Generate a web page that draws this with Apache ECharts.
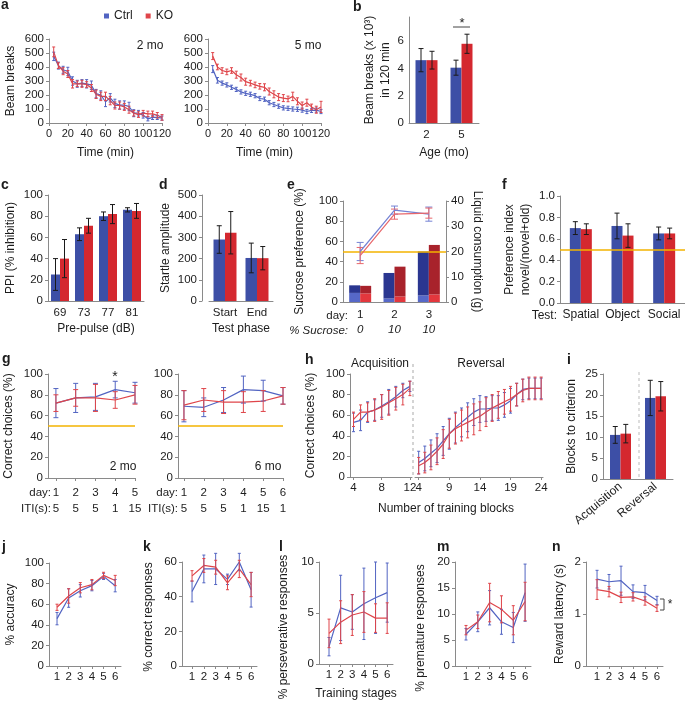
<!DOCTYPE html>
<html><head><meta charset="utf-8">
<script src="https://cdn.jsdelivr.net/npm/echarts@6/dist/echarts.min.js"></script>
<style>html,body{margin:0;padding:0;background:#fff}#c{width:685px;height:703px}</style>
</head><body><div id="c"></div>
<script>
// ---------------- data ----------------
const aTime = [5,10,15,20,25,30,35,40,45,50,55,60,65,70,75,80,85,90,95,100,105,110,115,120];
const a2moCtrl = [476,410,380,368,300,280,285,280,270,210,200,152,180,140,128,128,118,70,70,55,30,40,40,35];
const a2moCtrlErr = [30,25,25,30,30,25,25,30,30,30,30,35,30,30,30,30,30,25,20,20,15,15,15,15];
const a2moKO = [508,410,370,350,280,280,280,275,250,205,190,190,160,125,125,115,95,70,60,70,65,65,55,40];
const a2moKOErr = [35,20,25,25,30,20,25,20,25,30,30,30,30,25,25,25,25,20,20,20,20,20,20,20];
const a5moCtrl = [385,305,285,272,255,240,222,212,205,195,175,170,145,132,120,108,105,100,98,92,82,90,92,82];
const a5moCtrlErr = [25,20,15,15,15,15,15,15,15,15,15,15,15,15,15,15,15,15,15,15,15,15,15,15];
const a5moKO = [478,400,375,365,375,345,325,295,285,272,262,255,225,205,185,178,172,190,155,125,145,115,95,115];
const a5moKOErr = [25,20,20,20,20,25,25,25,20,20,20,25,25,25,25,25,20,30,25,25,25,20,25,40];

const bAge = ['2','5'];
const bCtrl = [4.6,4.05], bCtrlErr = [0.85,0.55];
const bKO = [4.6,5.8], bKOErr = [0.65,0.7];

const cPulse = ['69','73','77','81'];
const cCtrl = [25,63,80,86], cCtrlErr = [15,6,4,2];
const cKO = [40,71,82,85], cKOErr = [18,7,9,7];

const dPhase = ['Start','End'];
const dCtrl = [290,203], dCtrlErr = [65,70];
const dKO = [322,202], dKOErr = [100,55];

const eDays = ['1','2','3'];
const eSucrose = ['0','10','10'];
const eCtrlPref = [50,91,87], eCtrlPrefErr = [9,4,7];
const eKOPref = [46,87,88], eKOPrefErr = [8,5,5];
const eCtrlLower = [3.6,1.4,2.6], eCtrlUpper = [3.0,10.1,17.4];
const eKOLower = [3.4,2.2,3.0], eKOUpper = [3.0,11.8,19.6];

const fTests = ['Spatial','Object','Social'];
const fCtrl = [0.70,0.72,0.65], fCtrlErr = [0.06,0.12,0.06];
const fKO = [0.69,0.63,0.65], fKOErr = [0.05,0.11,0.05];

const gX1 = [1,2,3,4,5];
const gDays1 = ['1','2','3','4','5'], gITI1 = ['5','5','5','1','15'];
const g2moCtrl = [72,77,78,85,82], g2moCtrlErr = [14,14,13,8,10];
const g2moKO = [72,77,77,75,80], g2moKOErr = [8,8,13,8,9];
const gX2 = [1,2,3,4,5,6];
const gDays2 = ['1','2','3','4','5','6'], gITI2 = ['5','5','5','1','15','1'];
const g6moCtrl = [69,68,75,85,84,79], g6moCtrlErr = [15,9,12,13,10,8];
const g6moKO = [70,75,73,73,74,79], g6moKOErr = [14,11,11,10,10,8];

const hAcqX = [4,5,6,7,8,9,10,11,12];
const hAcqTicks = [4,8,12];
const hAcqCtrl = [53,55,63,65,69,73,78,84,88], hAcqCtrlErr = [9,10,10,10,11,12,10,7,5];
const hAcqKO = [56,63,63,65,68,72,76,80,86], hAcqKOErr = [7,7,9,11,12,12,11,10,7];
const hRevX = [4,5,6,7,8,9,10,11,12,13,14,15,16,17,18,19,20,21,22,23,24];
const hRevTicks = [4,9,14,19,24];
const hRevCtrl = [14,18,23,28,35,42,48,53,58,63,66,66,67,67,70,74,80,85,86,86,86];
const hRevCtrlErr = [11,12,13,14,14,15,15,14,14,13,13,12,12,12,12,12,11,10,10,10,10];
const hRevKO = [11,14,19,25,32,42,47,50,53,56,59,63,67,70,73,76,80,84,86,86,86];
const hRevKOErr = [8,10,12,13,14,14,15,15,15,15,14,14,13,13,12,12,11,11,11,11,11];

const iPhase = ['Acquisition','Reversal'];
const iCtrl = [10.5,19.3], iCtrlErr = [2.0,4.2];
const iKO = [10.8,19.7], iKOErr = [2.2,3.5];

const stages = [1,2,3,4,5,6];
const jCtrl = [46,66,73,78,87,78], jCtrlErr = [6,9,6,5,3,6];
const jKO = [57,68,76,79,88,83], jKOErr = [3,7,5,5,3,5];
const kCtrl = [43,56,56,50,60,44], kCtrlErr = [6,8,9,3,5,10];
const kKO = [52,58,57,48,56,47], kKOErr = [3,4,4,4,5,7];
const lCtrl = [1.7,5.5,5.1,5.9,6.5,7.0], lCtrlErr = [0.9,3.2,1.7,3.5,3.5,2.9];
const lKO = [3.0,4.1,4.8,5.1,4.5,4.5], lKOErr = [1.4,2.1,2.0,2.0,1.4,1.5];
const mCtrl = [6.1,8.5,11.2,8.5,7.4,14.1], mCtrlErr = [1.1,1.9,3.3,2.4,2.9,5.5];
const mKO = [6.9,8.5,12.2,10.9,8.8,12.4], mKOErr = [0.9,1.3,3.7,2.6,2.8,3.7];
const nCtrl = [1.67,1.62,1.64,1.43,1.41,1.26], nCtrlErr = [0.17,0.14,0.28,0.13,0.14,0.08];
const nKO = [1.47,1.43,1.32,1.33,1.25,1.11], nKOErr = [0.19,0.10,0.10,0.08,0.08,0.06];

// ---------------- style ----------------
const FONT = '"Liberation Sans", Arial, Helvetica, sans-serif';
const TXT = '#1c1c1c', AX = '#8a8a8a';
const BLUE_BAR = '#3d4fa6', RED_BAR = '#d4282f';
const BLUE_LINE = '#5264c2', RED_LINE = '#df454a';
const BLUE_DARK = '#2a3690', RED_DARK = '#a8222b';
const BLUE_LIGHT = '#5668c8', RED_LIGHT = '#e3373d';
const YELLOW = '#f3b300';
const ERR = '#1a1a1a';

function merge(a, b) {
  if (!b) return a;
  for (const k in b) {
    if (b[k] && typeof b[k] === 'object' && !Array.isArray(b[k]) && typeof b[k] !== 'function' && a[k] && typeof a[k] === 'object') merge(a[k], b[k]);
    else a[k] = b[k];
  }
  return a;
}
const nameStyle = {fontSize: 12, fontFamily: FONT, color: TXT, lineHeight: 16};
function yVal(grid, min, max, interval, name, gap, extra) {
  return merge({type: 'value', gridIndex: grid, min, max, interval, name: name || '', nameLocation: 'middle', nameGap: gap || 30,
    nameTextStyle: Object.assign({}, nameStyle),
    axisLine: {show: true, onZero: false, lineStyle: {color: AX}},
    axisTick: {show: true, length: 3, lineStyle: {color: AX}},
    axisLabel: {fontSize: 11.5, fontFamily: FONT, color: TXT, margin: 5, hideOverlap: false},
    splitLine: {show: false}}, extra);
}
function xVal(grid, min, max, extra) {
  return merge({type: 'value', gridIndex: grid, min, max, nameLocation: 'middle',
    nameTextStyle: Object.assign({}, nameStyle),
    axisLine: {show: true, onZero: false, lineStyle: {color: AX}},
    axisTick: {show: true, length: 3, lineStyle: {color: AX}},
    axisLabel: {fontSize: 11.5, fontFamily: FONT, color: TXT, margin: 5, showMinLabel: true, showMaxLabel: true, hideOverlap: false},
    splitLine: {show: false}}, extra);
}
function xCat(grid, data, extra) {
  return merge({type: 'category', gridIndex: grid, data, nameLocation: 'middle',
    nameTextStyle: Object.assign({}, nameStyle),
    axisLine: {show: true, onZero: false, lineStyle: {color: AX}},
    axisTick: {show: false},
    axisLabel: {interval: 0, fontSize: 11.5, fontFamily: FONT, color: TXT, margin: 6},
    splitLine: {show: false}}, extra);
}
function lineS(name, xi, yi, xs, ys, color, extra) {
  return merge({type: 'line', name, xAxisIndex: xi, yAxisIndex: yi, data: xs.map((x, i) => [x, ys[i]]),
    symbol: 'none', lineStyle: {color, width: 1.2}, itemStyle: {color}, z: 4, silent: true, animation: false}, extra);
}
function barS(name, xi, yi, ys, color, bw, extra) {
  return merge({type: 'bar', name, xAxisIndex: xi, yAxisIndex: yi, data: ys, barWidth: bw, barGap: '0%',
    itemStyle: {color}, z: 2, silent: true, animation: false}, extra);
}
function errS(xi, yi, xs, ys, es, color, off, cap, lw) {
  return {type: 'custom', xAxisIndex: xi, yAxisIndex: yi, silent: true, z: 5, clip: false, animation: false,
    encode: {x: 0, y: 1},
    data: xs.map((x, i) => [x, ys[i], es[i]]),
    renderItem(params, api) {
      const x = api.value(0), y = api.value(1), e = api.value(2);
      const p1 = api.coord([x, y + e]), p2 = api.coord([x, y - e]);
      const cx = p1[0] + off;
      const st = {stroke: color, lineWidth: lw || 1};
      return {type: 'group', children: [
        {type: 'line', shape: {x1: cx, y1: p1[1], x2: cx, y2: p2[1]}, style: st},
        {type: 'line', shape: {x1: cx - cap, y1: p1[1], x2: cx + cap, y2: p1[1]}, style: st},
        {type: 'line', shape: {x1: cx - cap, y1: p2[1], x2: cx + cap, y2: p2[1]}, style: st}]};
    }};
}
function yellow(v) {
  return {silent: true, symbol: 'none', label: {show: false}, animation: false,
    lineStyle: {color: YELLOW, width: 1.6, type: 'solid'}, data: [{yAxis: v}]};
}
const idx = (arr, v) => arr.indexOf(Math.round(v));

// ---------------- grids ----------------
const grids = [
  {left: 49, top: 39, width: 113, height: 84},   // 0 a1
  {left: 208, top: 39, width: 113, height: 84},  // 1 a2
  {left: 409, top: 17, width: 70, height: 106},  // 2 b
  {left: 48, top: 195, width: 96, height: 106},  // 3 c
  {left: 209, top: 195, width: 64, height: 106}, // 4 d
  {left: 343, top: 201, width: 103, height: 101},// 5 e
  {left: 560, top: 196, width: 135, height: 107},// 6 f
  {left: 48, top: 374, width: 87, height: 104},  // 7 g1
  {left: 178, top: 374, width: 105, height: 104},// 8 g2
  {left: 350, top: 374, width: 62, height: 103}, // 9 h1
  {left: 415, top: 374, width: 128, height: 103},// 10 h2
  {left: 603, top: 374, width: 70, height: 105}, // 11 i
  {left: 49, top: 563, width: 72, height: 103},  // 12 j
  {left: 182, top: 562, width: 75, height: 104}, // 13 k
  {left: 319, top: 562, width: 74, height: 104}, // 14 l
  {left: 455, top: 562, width: 76, height: 104}, // 15 m
  {left: 586, top: 562, width: 77, height: 104}  // 16 n
];

const stageX = (g, min) => xVal(g, min, 6.5, {axisLabel: {customValues: stages}, axisTick: {customValues: stages}});

const xAxes = [
  xVal(0, 0, 120, {interval: 20, name: 'Time (min)', nameGap: 22, axisLabel: {fontSize: 11}}),
  xVal(1, 0, 120, {interval: 20, name: 'Time (min)', nameGap: 22, axisLabel: {fontSize: 11}}),
  xCat(2, bAge, {name: 'Age (mo)', nameGap: 22}),
  xCat(3, cPulse, {name: 'Pre-pulse (dB)', nameGap: 20}),
  xCat(4, dPhase, {name: 'Test phase', nameGap: 20}),
  xCat(5, eDays, {axisLabel: {margin: 5, formatter: (v, i) => '{d|' + eDays[i] + '}\n{s|' + eSucrose[i] + '}',
    rich: {d: {fontSize: 11.5, fontFamily: FONT, color: TXT, lineHeight: 15}, s: {fontSize: 11.5, fontFamily: FONT, color: TXT, fontStyle: 'italic', lineHeight: 15}}}}),
  xCat(6, fTests, {axisLabel: {fontSize: 12}}),
  xVal(7, 0.6, 5, {axisLabel: {customValues: gX1, lineHeight: 16, margin: 7, formatter: v => gDays1[idx(gX1, v)] + '\n' + gITI1[idx(gX1, v)]}, axisTick: {customValues: gX1}}),
  xVal(8, 0.7, 6, {axisLabel: {customValues: gX2, lineHeight: 16, margin: 7, formatter: v => gDays2[idx(gX2, v)] + '\n' + gITI2[idx(gX2, v)]}, axisTick: {customValues: gX2}}),
  xVal(9, 3.5, 12.3, {axisLabel: {customValues: hAcqTicks}, axisTick: {customValues: hAcqTicks}}),
  xVal(10, 3.4, 24.3, {axisLabel: {customValues: hRevTicks}, axisTick: {customValues: hRevTicks}}),
  xCat(11, iPhase, {axisLabel: {rotate: 40, margin: 6, fontSize: 12}}),
  stageX(12, 0.31),
  stageX(13, 0.15),
  merge(stageX(14, 0.14), {name: 'Training stages', nameGap: 22}),
  stageX(15, 0.07),
  stageX(16, 0.08)
];

const yAxes = [
  yVal(0, 0, 600, 100, 'Beam breaks', 30),
  yVal(1, 0, 600, 100),
  yVal(2, 0, 7.76, 2, 'Beam breaks (x 10³)\nin 120 min', 14, {axisLabel: {showMaxLabel: false}, axisTick: {show: false}}),
  yVal(3, 0, 100, 20, 'PPI (% inhibition)', 29),
  yVal(4, 0, 500, 100, 'Startle amplitude', 26, {offset: 7}),
  yVal(5, 0, 100, 20, 'Sucrose preference (%)', 35),
  yVal(5, 0, 40, 10, 'Liquid consumption (g)', 23, {position: 'right', nameRotate: -90}),
  yVal(6, 0, 1, 0.2, 'Preference index\nnovel/(novel+old)', 26, {axisLabel: {formatter: v => v.toFixed(1)}}),
  yVal(7, 0, 100, 20, 'Correct choices (%)', 31),
  yVal(8, 0, 100, 20),
  yVal(9, 0, 100, 20, 'Correct choices (%)', 31),
  yVal(10, 0, 100, 20, '', 30, {show: false}),
  yVal(11, 0, 25, 5, 'Blocks to criterion', 23),
  yVal(12, 0, 100, 20, '% accuracy', 30),
  yVal(13, 0, 60, 20, '% correct responses', 25, {nameTextStyle: {padding: [0, 6, 0, 0]}}),
  yVal(14, 0, 10, 5, '% perseverative responses', 27, {nameTextStyle: {padding: [0, 28, 0, 0]}}),
  yVal(15, 0, 20, 5, '% premature responses', 26, {nameTextStyle: {padding: [0, 28, 0, 0]}}),
  yVal(16, 0, 2, 1, 'Reward latency (s)', 18)
];

// ---------------- series ----------------
const S = [];
function linePanel(xi, yi, xs, c, ce, k, ke, cap) {
  S.push(lineS('Ctrl', xi, yi, xs, c, BLUE_LINE), lineS('KO', xi, yi, xs, k, RED_LINE),
    errS(xi, yi, xs, c, ce, BLUE_LINE, 0, cap, 1), errS(xi, yi, xs, k, ke, RED_LINE, 0, cap, 1));
}
function barPanel(xi, yi, c, ce, k, ke, bw) {
  const xs = c.map((_, i) => i);
  S.push(barS('Ctrl', xi, yi, c, BLUE_BAR, bw), barS('KO', xi, yi, k, RED_BAR, bw),
    errS(xi, yi, xs, c, ce, ERR, -bw / 2, 2.5, 1), errS(xi, yi, xs, k, ke, ERR, bw / 2, 2.5, 1));
}
// a
linePanel(0, 0, aTime, a2moCtrl, a2moCtrlErr, a2moKO, a2moKOErr, 1.5);
linePanel(1, 1, aTime, a5moCtrl, a5moCtrlErr, a5moKO, a5moKOErr, 1.5);
// b, c, d
barPanel(2, 2, bCtrl, bCtrlErr, bKO, bKOErr, 11);
barPanel(3, 3, cCtrl, cCtrlErr, cKO, cKOErr, 9);
barPanel(4, 4, dCtrl, dCtrlErr, dKO, dKOErr, 11.5);
// e
S.push(barS('Ctrl', 5, 6, eCtrlLower, BLUE_LIGHT, 11, {stack: 'ctrl'}),
  barS('Ctrl', 5, 6, eCtrlUpper, BLUE_DARK, 11, {stack: 'ctrl'}),
  barS('KO', 5, 6, eKOLower, RED_LIGHT, 11, {stack: 'ko'}),
  barS('KO', 5, 6, eKOUpper, RED_DARK, 11, {stack: 'ko'}));
S.push(lineS('Ctrl', 5, 5, [0, 1, 2], eCtrlPref, '#7583d4', {z: 6, markLine: yellow(50)}),
  lineS('KO', 5, 5, [0, 1, 2], eKOPref, '#e8676b', {z: 6}),
  errS(5, 5, [0, 1, 2], eCtrlPref, eCtrlPrefErr, '#7583d4', 0, 3.5, 1),
  errS(5, 5, [0, 1, 2], eKOPref, eKOPrefErr, '#e8676b', 0, 3.5, 1));
// f
barPanel(6, 7, fCtrl, fCtrlErr, fKO, fKOErr, 11);
S.push(lineS('', 6, 7, [], [], YELLOW, {markLine: yellow(0.5), z: 6}));
// g
linePanel(7, 8, gX1, g2moCtrl, g2moCtrlErr, g2moKO, g2moKOErr, 2.5);
linePanel(8, 9, gX2, g6moCtrl, g6moCtrlErr, g6moKO, g6moKOErr, 2.5);
S.push(lineS('', 7, 8, [], [], YELLOW, {markLine: yellow(50)}), lineS('', 8, 9, [], [], YELLOW, {markLine: yellow(50)}));
// h
linePanel(9, 10, hAcqX, hAcqCtrl, hAcqCtrlErr, hAcqKO, hAcqKOErr, 1.5);
linePanel(10, 11, hRevX, hRevCtrl, hRevCtrlErr, hRevKO, hRevKOErr, 1.5);
// i
barPanel(11, 12, iCtrl, iCtrlErr, iKO, iKOErr, 10.5);
// j-n
linePanel(12, 13, stages, jCtrl, jCtrlErr, jKO, jKOErr, 1.5);
linePanel(13, 14, stages, kCtrl, kCtrlErr, kKO, kKOErr, 1.5);
linePanel(14, 15, stages, lCtrl, lCtrlErr, lKO, lKOErr, 1.5);
linePanel(15, 16, stages, mCtrl, mCtrlErr, mKO, mKOErr, 1.5);
linePanel(16, 17, stages, nCtrl, nCtrlErr, nKO, nKOErr, 1.5);

// ---------------- annotations ----------------
const G = [];
function T(text, x, y, o) {
  o = o || {};
  G.push({type: 'text', x, y, silent: true, style: {text, fill: TXT, align: o.align || 'center', verticalAlign: 'middle',
    font: (o.italic ? 'italic ' : '') + (o.bold ? 'bold ' : '') + (o.size || 12) + 'px ' + FONT}});
}
function L(x1, y1, x2, y2, o) {
  o = o || {};
  G.push({type: 'line', silent: true, shape: {x1, y1, x2, y2}, style: {stroke: o.color || '#444', lineWidth: 1, lineDash: o.dash || null}});
}
[['a', 1, 10], ['b', 353, 12], ['c', 1, 190], ['d', 159, 190], ['e', 287, 190], ['f', 502, 190],
 ['g', 2, 364], ['h', 305, 365], ['i', 567, 365], ['j', 2, 552], ['k', 143, 552], ['l', 279, 552],
 ['m', 437, 552], ['n', 552, 552]].forEach(([t, x, b]) => T(t, x, b - 5, {bold: true, size: 14, align: 'left'}));
T('2 mo', 150, 46); T('5 mo', 308, 46);
L(453, 27, 470, 27); T('*', 462, 23, {size: 13});
T('day:', 348, 316, {align: 'right', size: 11.5}); T('% Sucrose:', 348, 331, {align: 'right', size: 11.5, italic: true});
T('Test:', 557, 316, {align: 'right'});
T('day:', 51, 493, {align: 'right', size: 11.5}); T('ITI(s):', 51, 509, {align: 'right', size: 11.5});
T('day:', 178, 493, {align: 'right', size: 11.5}); T('ITI(s):', 178, 509, {align: 'right', size: 11.5});
T('*', 115, 377, {size: 14});
T('2 mo', 123, 467); T('6 mo', 268, 467);
T('Acquisition', 380, 364); T('Reversal', 481, 364);
T('Number of training blocks', 446, 509);
L(413, 364, 413, 478, {color: '#aaa', dash: [3, 3]});
L(639, 372, 639, 479, {color: '#bbb', dash: [3, 3]});
L(660, 599, 664, 599); L(664, 599, 664, 610); L(660, 610, 664, 610); T('*', 670, 605, {size: 12});

const chart = echarts.init(document.getElementById('c'), null, {renderer: 'canvas'});
chart.setOption({
  animation: false,
  textStyle: {fontFamily: FONT},
  legend: {data: ['Ctrl', 'KO'], left: 104, top: 10, padding: 0, icon: 'rect', itemWidth: 5, itemHeight: 5, itemGap: 13,
    selectedMode: false, textStyle: {fontSize: 12, fontFamily: FONT, color: TXT}},
  grid: grids,
  xAxis: xAxes,
  yAxis: yAxes,
  series: S,
  graphic: G
});
</script></body></html>
